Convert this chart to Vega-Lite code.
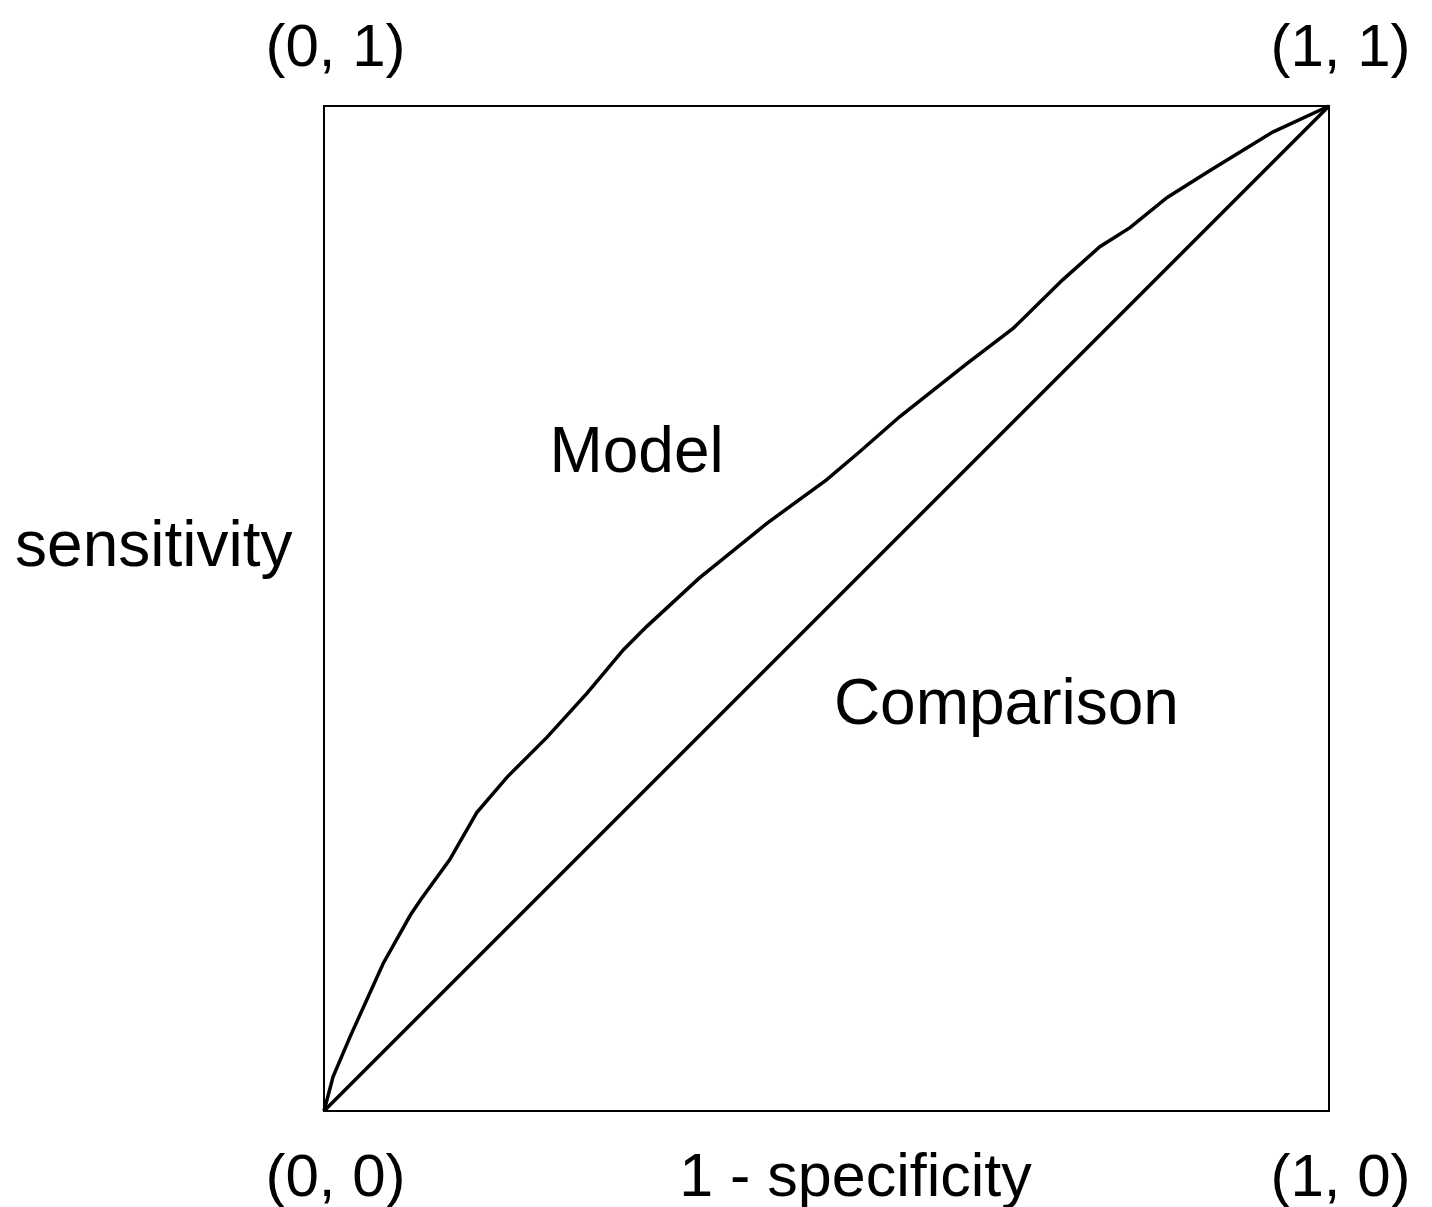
{
  "$schema": "https://vega.github.io/schema/vega-lite/v6.json",
  "width": 1005,
  "height": 1005,
  "autosize": {"type": "none"},
  "padding": {"left": 324, "top": 106, "right": 103, "bottom": 96},
  "background": "white",
  "config": {
    "view": {"stroke": "black", "strokeWidth": 2},
    "font": "Liberation Sans",
    "axis": {"grid": false, "ticks": false, "domain": false, "labelColor": "black", "titleColor": "black", "titleFontWeight": "normal"}
  },
  "datasets": {
    "roc": [
      {"fpr": 0.0, "tpr": 0.0, "curve": "Model"},
      {"fpr": 0.009, "tpr": 0.034, "curve": "Model"},
      {"fpr": 0.026, "tpr": 0.074, "curve": "Model"},
      {"fpr": 0.059, "tpr": 0.147, "curve": "Model"},
      {"fpr": 0.086, "tpr": 0.195, "curve": "Model"},
      {"fpr": 0.096, "tpr": 0.21, "curve": "Model"},
      {"fpr": 0.125, "tpr": 0.25, "curve": "Model"},
      {"fpr": 0.152, "tpr": 0.297, "curve": "Model"},
      {"fpr": 0.182, "tpr": 0.332, "curve": "Model"},
      {"fpr": 0.222, "tpr": 0.372, "curve": "Model"},
      {"fpr": 0.262, "tpr": 0.416, "curve": "Model"},
      {"fpr": 0.298, "tpr": 0.459, "curve": "Model"},
      {"fpr": 0.321, "tpr": 0.482, "curve": "Model"},
      {"fpr": 0.373, "tpr": 0.53, "curve": "Model"},
      {"fpr": 0.441, "tpr": 0.585, "curve": "Model"},
      {"fpr": 0.5, "tpr": 0.628, "curve": "Model"},
      {"fpr": 0.533, "tpr": 0.656, "curve": "Model"},
      {"fpr": 0.573, "tpr": 0.691, "curve": "Model"},
      {"fpr": 0.64, "tpr": 0.744, "curve": "Model"},
      {"fpr": 0.686, "tpr": 0.779, "curve": "Model"},
      {"fpr": 0.735, "tpr": 0.827, "curve": "Model"},
      {"fpr": 0.772, "tpr": 0.86, "curve": "Model"},
      {"fpr": 0.802, "tpr": 0.879, "curve": "Model"},
      {"fpr": 0.839, "tpr": 0.909, "curve": "Model"},
      {"fpr": 0.882, "tpr": 0.936, "curve": "Model"},
      {"fpr": 0.944, "tpr": 0.974, "curve": "Model"},
      {"fpr": 1.0, "tpr": 1.0, "curve": "Model"},
      {"fpr": 0.0, "tpr": 0.0, "curve": "Comparison"},
      {"fpr": 1.0, "tpr": 1.0, "curve": "Comparison"}
    ],
    "labels": [
      {"x": 0.311, "y": 0.636, "label": "Model"},
      {"x": 0.679, "y": 0.385, "label": "Comparison"}
    ]
  },
  "layer": [
    {
      "data": {"name": "roc"},
      "mark": {"type": "line", "color": "black", "strokeWidth": 3.5},
      "encoding": {
        "x": {
          "field": "fpr", "type": "quantitative",
          "scale": {"domain": [0, 1], "nice": false},
          "axis": {
            "orient": "bottom", "values": [0, 1],
            "labelExpr": "datum.value == 0 ? '(0, 0)' : '(1, 0)'",
            "labelFontSize": 60, "labelBaseline": "alphabetic", "labelPadding": 84,
            "labelAlign": "center", "labelOffset": 11, "labelFlush": false, "labelOverlap": false, "labelBound": false,
            "title": "1 - specificity", "titleFontSize": 61, "titleX": 531, "titleY": 84,
            "titleBaseline": "alphabetic", "titleAlign": "center"
          }
        },
        "y": {
          "field": "tpr", "type": "quantitative",
          "scale": {"domain": [0, 1], "nice": false},
          "title": "sensitivity",
          "axis": {
            "labels": false,
            "titleFontSize": 64, "titleAngle": 0,
            "titleAlign": "right", "titleBaseline": "alphabetic", "titleX": -32, "titleY": 459
          }
        },
        "detail": {"field": "curve", "type": "nominal"}
      }
    },
    {
      "data": {"name": "labels"},
      "mark": {"type": "text", "fontSize": 64, "baseline": "alphabetic", "align": "center", "color": "black", "font": "Liberation Sans"},
      "encoding": {
        "x": {
          "field": "x", "type": "quantitative",
          "axis": {
            "orient": "top", "values": [0, 1],
            "labelExpr": "datum.value == 0 ? '(0, 1)' : '(1, 1)'",
            "labelFontSize": 60, "labelBaseline": "alphabetic", "labelPadding": 41,
            "labelAlign": "center", "labelOffset": 11, "labelFlush": false, "labelOverlap": false, "labelBound": false,
            "title": null
          }
        },
        "y": {
          "field": "y", "type": "quantitative",
          "title": "sensitivity",
          "axis": {
            "labels": false,
            "titleFontSize": 64, "titleAngle": 0,
            "titleAlign": "right", "titleBaseline": "alphabetic", "titleX": -32, "titleY": 459
          }
        },
        "text": {"field": "label"}
      }
    }
  ],
  "resolve": {"axis": {"x": "independent"}}
}
